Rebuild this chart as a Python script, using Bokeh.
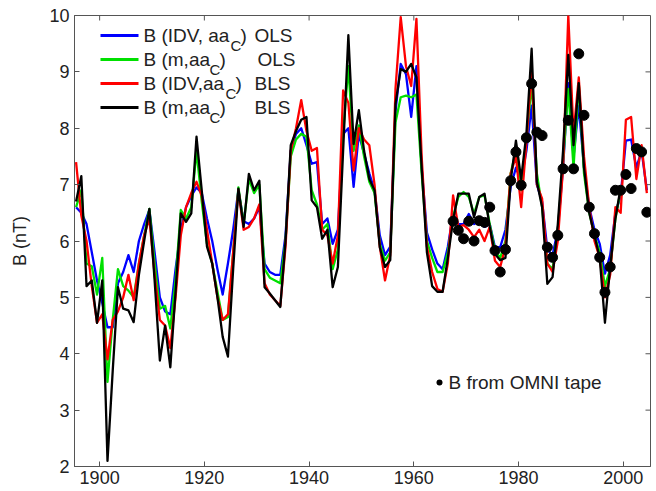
from bokeh.plotting import figure
from bokeh.models import Range1d, FixedTicker, Label, BoxAnnotation
from bokeh.embed import file_html
from bokeh.resources import INLINE

# ---------------- data (annual means, plotted at mid-year) ----------------
years = list(range(1895, 2005))

# B (IDV, aa_C) OLS  -- blue
b_idv_ols = [
    6.6, 6.5, 6.3, 5.8, 5.3, 4.9, 4.47, 4.47, 5.25, 5.45,
    5.75, 5.45, 6.0, 6.3, 6.55, 5.8, 5.0, 4.75, 4.7, 5.5,
    6.2, 6.6, 6.8, 6.95, 6.85, 6.4, 6.0, 5.5, 5.05, 5.6,
    6.2, 6.9, 6.35, 6.3, 6.4, 6.6, 5.6, 5.45, 5.4, 5.4,
    6.1, 7.6, 7.9, 8.0, 7.7, 7.37, 7.4, 6.3, 6.4, 5.95,
    6.2, 7.9, 8.0, 6.96, 7.9, 7.55, 7.2, 6.9, 6.1, 5.75,
    5.9, 8.3, 9.14, 8.96, 8.2, 9.1, 7.3, 6.15, 5.85, 5.6,
    5.5, 5.9, 6.48, 6.3, 6.3, 6.48, 6.3, 6.36, 6.25, 6.3,
    5.89, 5.89, 6.2, 6.96, 7.3, 7.07, 7.6, 8.4, 7.0, 6.7,
    5.85, 5.75, 6.2, 7.3, 8.8, 7.49, 8.4, 7.3, 6.6, 6.2,
    5.95, 5.42, 5.75, 6.5, 6.8, 7.78, 7.8, 7.3, 7.6, 6.9,
]

# B (m, aa_C) OLS  -- green (1895-1999)
b_m_ols = [
    6.6, 6.9, 5.6, 5.55, 5.05, 5.7, 3.5, 4.6, 5.5, 5.2,
    5.12, 5.0, 5.6, 6.1, 6.57, 5.6, 4.8, 4.85, 4.45, 5.3,
    6.55, 6.4, 6.6, 7.6, 6.7, 5.95, 5.6, 5.1, 4.6, 4.65,
    5.8, 6.95, 6.3, 7.1, 6.85, 7.0, 5.5, 5.35, 5.3, 5.25,
    6.0, 7.5, 7.8, 7.9, 7.85, 6.9, 6.65, 6.2, 6.3, 5.5,
    5.85, 7.9, 9.1, 7.6, 8.05, 7.5, 7.05, 6.85, 5.95, 5.65,
    5.8, 8.1, 8.55, 8.58, 8.55, 8.6, 7.2, 6.0, 5.7, 5.45,
    5.45, 5.8, 6.43, 6.78, 6.87, 6.78, 6.48, 6.78, 6.81, 6.3,
    5.83, 5.7, 6.0, 7.2, 7.6, 6.9, 7.8, 8.8, 7.2, 6.6,
    5.6, 5.5, 6.2, 7.4, 8.7, 7.3, 8.8, 7.2, 6.5, 6.1,
    5.8, 5.2, 5.5, 6.4, 6.9,
]

# B (IDV, aa_C) BLS  -- red
b_idv_bls = [
    7.4, 6.45, 6.0, 5.2, 4.55, 4.7, 3.9, 4.6, 4.75, 5.0,
    5.4, 4.95, 5.6, 6.1, 6.4, 5.4, 4.6, 4.5, 4.1, 5.0,
    6.1, 6.6, 6.85, 7.05, 6.8, 6.2, 5.6, 5.0, 4.6, 4.7,
    5.8, 6.9, 6.2, 6.25, 6.4, 6.65, 5.25, 5.05, 4.95, 4.85,
    5.9, 7.6, 8.0, 8.5, 7.95, 7.6, 7.65, 6.2, 6.1, 5.6,
    6.1, 8.67, 8.45, 7.25, 8.0, 7.8, 7.7, 7.0, 5.9, 5.3,
    5.75, 8.7, 9.97, 9.1, 8.75, 9.94, 7.5, 5.9, 5.45, 5.15,
    5.1, 5.6, 6.81, 6.25, 6.28, 6.2, 6.07, 6.2, 6.0, 6.25,
    5.65, 5.54, 5.9, 7.2, 7.5, 6.6, 7.75, 9.05, 7.0, 6.75,
    5.6, 5.45, 6.0, 7.3, 10.0, 7.9, 8.9, 7.5, 6.6, 6.0,
    5.7, 5.0, 5.4, 6.6, 6.5, 8.15, 8.2, 7.1, 7.7, 6.85,
]

# B (m, aa_C) BLS  -- black (1895-1999)
b_m_bls = [
    6.7, 7.15, 5.2, 5.3, 4.55, 5.3, 2.1, 3.7, 5.18, 4.8,
    4.77, 4.56, 5.4, 6.0, 6.57, 5.3, 3.88, 4.5, 3.76, 5.1,
    6.49, 6.34, 6.49, 7.85, 6.9, 5.9, 5.6, 5.0, 4.3, 3.95,
    5.5, 6.93, 6.25, 7.19, 6.9, 7.07, 5.18, 5.07, 4.95, 4.83,
    6.0, 7.7, 7.95, 8.15, 8.2, 6.72, 6.6, 6.04, 6.2, 5.18,
    5.54, 7.6, 9.65, 7.72, 8.32, 7.6, 7.1, 6.9, 5.89, 5.54,
    5.66, 8.43, 9.05, 9.0, 9.14, 8.9, 7.3, 5.8, 5.2, 5.1,
    5.1, 5.7, 6.37, 6.84, 6.84, 6.84, 6.42, 6.78, 6.84, 6.25,
    5.77, 5.66, 5.7, 7.07, 7.78, 7.1, 7.9, 9.41, 7.05, 6.6,
    5.24, 5.36, 6.3, 7.6, 9.3, 7.7, 8.8, 7.3, 6.5, 6.1,
    5.7, 4.55, 5.54, 6.4, 6.95,
]

# B from OMNI tape (dots)
omni_years = list(range(1967, 2005))
b_omni = [
    6.35, 6.19, 6.04, 6.35, 6.0, 6.36, 6.33, 6.6, 5.83, 5.45,
    5.85, 7.07, 7.58, 6.99, 7.83, 8.79, 7.93, 7.87, 5.89, 5.71,
    6.1, 7.28, 8.14, 7.28, 9.32, 8.23, 6.6, 6.13, 5.71, 5.09,
    5.54, 6.9, 6.9, 7.18, 6.93, 7.64, 7.58, 6.51,
]

x_ticks = [1900, 1920, 1940, 1960, 1980, 2000]
y_ticks = [2, 3, 4, 5, 6, 7, 8, 9, 10]

series_colors = ["#0000ff", "#00e000", "#ff0000", "#000000"]
legend_main = ["B (IDV, aa", "B (m,aa", "B (IDV,aa", "B (m,aa"]
legend_sub = "C"
legend_tail = ["OLS", "OLS", "BLS", "BLS"]
omni_label = "B from OMNI tape"
y_label = "B (nT)"

FONT = "Liberation Sans"
AX = "#555555"
TXT = "#222222"

FRAME_W, FRAME_H = 576, 451
TICK_PX = 5

# ---------------- figure ----------------
xr = Range1d(1895.2, 2005.2)
yr = Range1d(2, 10)
p = figure(width=656, height=491, x_range=xr, y_range=yr,
           output_backend="svg", toolbar_location=None,
           min_border_left=74, min_border_right=6,
           min_border_top=15, min_border_bottom=25)
p.xgrid.visible = False
p.ygrid.visible = False
p.outline_line_color = AX
p.outline_line_width = 1
p.background_fill_color = "white"
p.border_fill_color = "white"

for ax, tk in ((p.xaxis[0], x_ticks), (p.yaxis[0], y_ticks)):
    ax.ticker = FixedTicker(ticks=tk)
    ax.major_tick_in = TICK_PX
    ax.major_tick_out = 0
    ax.minor_tick_in = 0
    ax.minor_tick_out = 0
    ax.axis_line_color = AX
    ax.major_tick_line_color = AX
    ax.major_label_text_font = FONT
    ax.major_label_text_font_size = "18px"
    ax.major_label_text_color = TXT
p.xaxis[0].major_label_standoff = 4
p.yaxis[0].major_label_standoff = 5
p.yaxis[0].axis_label = y_label
p.yaxis[0].axis_label_text_font = FONT
p.yaxis[0].axis_label_text_font_size = "18px"
p.yaxis[0].axis_label_text_font_style = "normal"
p.yaxis[0].axis_label_text_color = TXT
p.yaxis[0].axis_label_standoff = 16

# mirrored inward ticks on the top and right edges of the box
dy = TICK_PX * (yr.end - yr.start) / FRAME_H
dx = TICK_PX * (xr.end - xr.start) / FRAME_W
p.segment(x0=x_ticks, y0=[yr.end] * len(x_ticks), x1=x_ticks, y1=[yr.end - dy] * len(x_ticks),
          line_color=AX, line_width=1)
p.segment(x0=[xr.end] * len(y_ticks), y0=y_ticks, x1=[xr.end - dx] * len(y_ticks), y1=y_ticks,
          line_color=AX, line_width=1)

# ---------------- series ----------------
series = [b_idv_ols, b_m_ols, b_idv_bls, b_m_bls]
for vals, col in zip(series, series_colors):
    xs = [y + 0.5 for y in years[:len(vals)]]
    p.line(xs, vals, line_color=col, line_width=2.3, line_join="round")

p.scatter([y + 0.5 for y in omni_years], b_omni, size=10,
          fill_color="black", line_color="black", marker="circle")

# ---------------- legends (screen units, relative to the plot frame) ----------------
FRAME_L, FRAME_B = 74, 466
row_y = [35, 59, 83, 107]
sub_x = [230, 209, 225, 209]
paren_x = [240, 219, 235, 219]
tail_x = [254, 257, 254, 254]
for i in range(4):
    yc = FRAME_B - row_y[i]
    p.add_layout(BoxAnnotation(left=100 - FRAME_L, right=138 - FRAME_L,
                               bottom=yc - 1.5, top=yc + 1.5,
                               left_units="screen", right_units="screen",
                               bottom_units="screen", top_units="screen",
                               fill_color=series_colors[i], fill_alpha=1,
                               line_color=None))
    p.add_layout(Label(x=143 - FRAME_L, y=yc, x_units="screen", y_units="screen",
                       text=legend_main[i], text_font=FONT, text_font_size="19px",
                       text_color=TXT, text_baseline="middle"))
    p.add_layout(Label(x=sub_x[i] - FRAME_L, y=yc - 10, x_units="screen", y_units="screen",
                       text=legend_sub, text_font=FONT, text_font_size="15px",
                       text_color=TXT, text_baseline="middle"))
    p.add_layout(Label(x=paren_x[i] - FRAME_L, y=yc, x_units="screen", y_units="screen",
                       text=")", text_font=FONT, text_font_size="19px",
                       text_color=TXT, text_baseline="middle"))
    p.add_layout(Label(x=tail_x[i] - FRAME_L, y=yc, x_units="screen", y_units="screen",
                       text=legend_tail[i], text_font=FONT, text_font_size="19px",
                       text_color=TXT, text_baseline="middle"))

oy = FRAME_B - 382
p.add_layout(BoxAnnotation(left=436 - FRAME_L, right=442 - FRAME_L,
                           bottom=oy - 3, top=oy + 3,
                           left_units="screen", right_units="screen",
                           bottom_units="screen", top_units="screen",
                           fill_color="black", fill_alpha=1, line_color=None,
                           border_radius=3))
p.add_layout(Label(x=448 - FRAME_L, y=oy, x_units="screen", y_units="screen",
                   text=omni_label, text_font=FONT, text_font_size="19px",
                   text_color=TXT, text_baseline="middle"))

open("out.html", "w").write(file_html(p, INLINE))
